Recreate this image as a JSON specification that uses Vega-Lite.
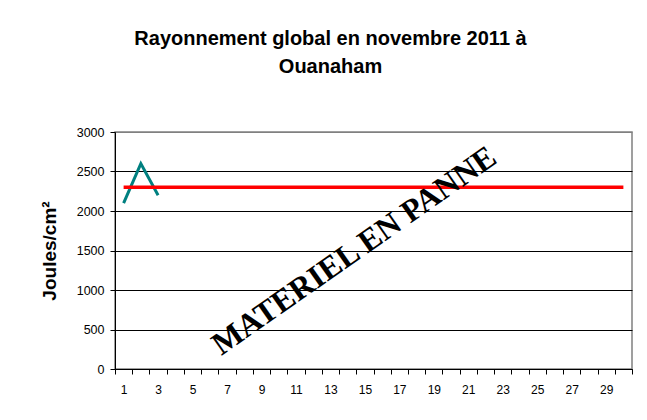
{
  "$schema": "https://vega.github.io/schema/vega-lite/v6.json",
  "width": 517,
  "height": 237,
  "autosize": "none",
  "padding": {"left": 115, "top": 132, "right": 15, "bottom": 51},
  "background": "white",
  "title": {
    "text": ["Rayonnement global en novembre 2011 à", "Ouanaham"],
    "font": "Liberation Sans",
    "fontWeight": "bold",
    "fontSize": 20,
    "lineHeight": 28,
    "color": "black",
    "anchor": "middle",
    "dx": -43,
    "offset": 49
  },
  "datasets": {
    "mesure": [
      {"jour": 1, "valeur": 2100},
      {"jour": 2, "valeur": 2600},
      {"jour": 3, "valeur": 2200}
    ],
    "reference": [
      {"jour": 1, "valeur": 2300}, {"jour": 2, "valeur": 2300}, {"jour": 3, "valeur": 2300},
      {"jour": 4, "valeur": 2300}, {"jour": 5, "valeur": 2300}, {"jour": 6, "valeur": 2300},
      {"jour": 7, "valeur": 2300}, {"jour": 8, "valeur": 2300}, {"jour": 9, "valeur": 2300},
      {"jour": 10, "valeur": 2300}, {"jour": 11, "valeur": 2300}, {"jour": 12, "valeur": 2300},
      {"jour": 13, "valeur": 2300}, {"jour": 14, "valeur": 2300}, {"jour": 15, "valeur": 2300},
      {"jour": 16, "valeur": 2300}, {"jour": 17, "valeur": 2300}, {"jour": 18, "valeur": 2300},
      {"jour": 19, "valeur": 2300}, {"jour": 20, "valeur": 2300}, {"jour": 21, "valeur": 2300},
      {"jour": 22, "valeur": 2300}, {"jour": 23, "valeur": 2300}, {"jour": 24, "valeur": 2300},
      {"jour": 25, "valeur": 2300}, {"jour": 26, "valeur": 2300}, {"jour": 27, "valeur": 2300},
      {"jour": 28, "valeur": 2300}, {"jour": 29, "valeur": 2300}, {"jour": 30, "valeur": 2300}
    ],
    "note": [
      {"jour": 14, "valeur": 1440, "texte": "MATERIEL EN  PANNE"}
    ]
  },
  "encoding": {
    "x": {
      "field": "jour",
      "type": "ordinal",
      "scale": {
        "domain": [1,2,3,4,5,6,7,8,9,10,11,12,13,14,15,16,17,18,19,20,21,22,23,24,25,26,27,28,29,30],
        "paddingInner": 0,
        "paddingOuter": 0
      },
      "axis": {
        "title": null,
        "labelAngle": 0,
        "tickBand": "extent",
        "labelExpr": "datum.value % 2 == 1 ? datum.label : ''",
        "domainColor": "black",
        "tickColor": "black",
        "tickSize": 5,
        "labelPadding": 10,
        "labelFont": "Liberation Sans",
        "labelFontSize": 12,
        "labelColor": "black",
        "grid": false
      }
    },
    "y": {
      "field": "valeur",
      "type": "quantitative",
      "scale": {"domain": [0, 3000], "nice": false},
      "axis": {
        "title": "Joules/cm²",
        "titleFont": "Liberation Sans",
        "titleFontWeight": "bold",
        "titleFontSize": 19,
        "titleColor": "black",
        "titlePadding": 17,
        "values": [0, 500, 1000, 1500, 2000, 2500, 3000],
        "format": "d",
        "labelOverlap": false,
        "labelFont": "Liberation Sans",
        "labelFontSize": 12.5,
        "labelColor": "black",
        "labelPadding": 6,
        "tickSize": 5,
        "tickColor": "black",
        "domainColor": "black",
        "grid": true,
        "gridColor": {"condition": {"test": "datum.value === 3000", "value": "#808080"}, "value": "black"},
        "gridOpacity": 1,
        "gridWidth": 1
      }
    }
  },
  "layer": [
    {
      "data": {"name": "mesure"},
      "mark": {"type": "line", "color": "#008080", "strokeWidth": 3}
    },
    {
      "data": {"name": "reference"},
      "mark": {"type": "line", "color": "#ff0000", "strokeWidth": 3.5}
    },
    {
      "data": {"name": "note"},
      "mark": {
        "type": "text",
        "angle": -35,
        "font": "Liberation Serif",
        "fontWeight": "bold",
        "fontSize": 32,
        "align": "center",
        "baseline": "middle",
        "dx": 8,
        "color": "black"
      },
      "encoding": {
        "text": {"field": "texte"}
      }
    }
  ],
  "config": {
    "view": {"stroke": "#808080", "strokeWidth": 1.5},
    "axis": {"domainWidth": 1, "tickWidth": 1}
  }
}
